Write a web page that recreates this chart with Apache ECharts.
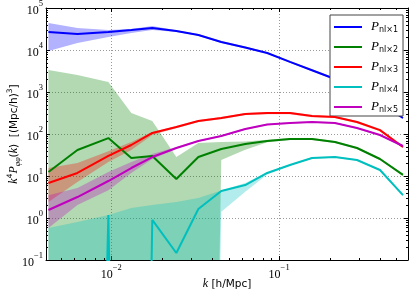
<!DOCTYPE html>
<html><head><meta charset="utf-8">
<script src="https://cdn.jsdelivr.net/npm/echarts@6/dist/echarts.min.js"></script>
<style>html,body{margin:0;padding:0;background:#fff}#c{width:413px;height:292px}</style>
</head><body><div id="c"></div>
<script>
// wavenumbers k [h/Mpc]
const k = [0.00422,0.00628,0.0096,0.01315,0.01754,0.0244,0.033,0.0452,0.0628,0.0849,0.116,0.157,0.215,0.291,0.399,0.547];
// series values (0 = non-positive, drawn clipped as in log scale)
const p1   = [26800,24000,26800,30000,33400,28300,22800,15500,11500,8500,5200,3300,2040,1120,550,240];
const p1Lo = [9500,14700,20400,25400,30000,26900,21700,14700,10900,8100,4950,3140,1940,1060,520,228];
const p1Hi = [44000,33400,30000,31600,37300,29700,23900,16300,12100,8900,5450,3470,2140,1180,580,252];
const p2   = [12.5,41.6,80,26.8,30,8.5,28.3,44,58,68,76,76,64.5,46.4,25.4,10.6];
const p2Lo = [0,0,0,0,0,0,0,24,42,64,72,72,61,44,24,10];
const p2Hi = [3340,2540,1730,316,204,28.3,61,64.5,66,73,80,80,68,49,27,11.2];
const p3   = [6.8,11.8,30,54.7,106,147,204,240,300,316,316,268,254,193,124,49];
const p3Lo = [2.4,7.2,21.5,41.7,94.6,138,192,226,282,297,297,252,239,181,116,46];
const p3Hi = [15.5,20.4,39,64.5,112,156,216,254,318,335,335,284,269,205,132,52];
const p4   = [0,0,1.18,0,0.9,0.147,1.64,4.4,6.1,11.8,18.3,26.8,28.3,24,13.9,3.5];
const p4Lo = [0,0,0,0,0,0,0,1.4,4.2,10.8,17.5,25.7,27.2,23.1,13.4,3.3];
const p4Hi = [0.58,0.80,1.18,1.73,2.04,2.4,3.0,4.5,6.8,12.3,19,27.8,29.3,24.9,14.4,3.6];
const p5   = [1.55,3.16,7.6,15.5,28.3,46.4,68,89.6,131,168,183,193,183,139,94.6,51.8];
const p5Lo = [0.58,2.04,4.6,11.8,25.4,44,65,86,125,161,175,185,175,133,90,49.5];
const p5Hi = [3.5,5.2,12.4,21.5,33.4,48.8,71,94,137,175,191,201,191,145,99,54];
const names = ['Pnl×1','Pnl×2','Pnl×3','Pnl×4','Pnl×5'];
const xMinorTicks = [0.005,0.006,0.007,0.008,0.009,0.02,0.03,0.04,0.05,0.06,0.07,0.08,0.09,0.2,0.3,0.4,0.5];
const yMinorTicks = [];
[0.1,1,10,100,1000,10000].forEach(d=>{for(let m=2;m<=9;m++) yMinorTicks.push(d*m);});

const colors = ['#0000ff','#008000','#ff0000','#00bfbf','#bf00bf'];
const bandColors = ['rgba(0,0,255,0.3)','rgba(0,128,0,0.3)','rgba(255,0,0,0.3)','rgba(0,191,191,0.3)','rgba(191,0,191,0.3)'];
const lines = [p1,p2,p3,p4,p5];
const los = [p1Lo,p2Lo,p3Lo,p4Lo,p5Lo];
const his = [p1Hi,p2Hi,p3Hi,p4Hi,p5Hi];
const pos = v => v > 0 ? v : 1e-30;

function bandSeries(i){
  return {
    type:'custom', silent:true, clip:true, z:1,
    data:[[k[0], pos(lines[i][0])]],
    renderItem:function(params, api){
      const pts=[];
      for(let j=0;j<k.length;j++) pts.push(api.coord([k[j], pos(his[i][j])]));
      for(let j=k.length-1;j>=0;j--) pts.push(api.coord([k[j], pos(los[i][j])]));
      return {type:'polygon', shape:{points:pts}, style:{fill:bandColors[i], stroke:null}};
    }
  };
}
function lineSeries(i){
  return {
    name:names[i], type:'line', symbol:'none', clip:true, z:3+i,
    data:k.map((x,j)=>[x, pos(lines[i][j])]),
    lineStyle:{color:colors[i], width:2}, itemStyle:{color:colors[i]},
    animation:false
  };
}
const minorSeries = {
  type:'custom', silent:true, clip:false, z:10,
  data:[[k[0], 1]],
  renderItem:function(params, api){
    const cs = params.coordSys; const ch=[];
    xMinorTicks.forEach(v=>{
      const x = Math.round(api.coord([v,1])[0])+0.5;
      ch.push({type:'line',shape:{x1:x,y1:cs.y+cs.height,x2:x,y2:cs.y+cs.height-2},style:{stroke:'#000',lineWidth:1}});
      ch.push({type:'line',shape:{x1:x,y1:cs.y,x2:x,y2:cs.y+2},style:{stroke:'#000',lineWidth:1}});
    });
    yMinorTicks.forEach(v=>{
      const y = Math.round(api.coord([0.01,v])[1])+0.5;
      ch.push({type:'line',shape:{x1:cs.x,y1:y,x2:cs.x+2,y2:y},style:{stroke:'#000',lineWidth:1}});
      ch.push({type:'line',shape:{x1:cs.x+cs.width,y1:y,x2:cs.x+cs.width-2,y2:y},style:{stroke:'#000',lineWidth:1}});
    });
    return {type:'group', children:ch};
  }
};

function powLabel(v){
  const e = Math.log10(v); const r = Math.round(e);
  if (Math.abs(e-r) > 1e-6) return '';
  return '{b|10}{e|' + (r<0 ? '\u2212'+(-r) : r) + '}';
}
const labelRich = {
  b:{fontFamily:'Liberation Serif', fontSize:12, color:'#000', lineHeight:18, verticalAlign:'bottom'},
  e:{fontFamily:'Liberation Serif', fontSize:8.5, color:'#000', lineHeight:8, verticalAlign:'top'}
};
const axisLineStyle = {show:true, lineStyle:{color:'#000', width:1}};
const split = {show:true, lineStyle:{color:'#9a9a9a', type:[1,2], width:1}};

const chart = echarts.init(document.getElementById('c'), null, {renderer:'canvas'});
chart.setOption({
  animation:false,
  backgroundColor:'#fff',
  grid:{left:46, right:5, top:8, bottom:32, containLabel:false, outerBoundsMode:'none'},
  legend:{
    data:names, orient:'vertical', left:330, top:15, icon:'rect',
    padding:[5,5,2,4], itemGap:6, itemWidth:28, itemHeight:2,
    borderColor:'#444', borderWidth:1, backgroundColor:'#fff', borderRadius:0,
    formatter:n=>'{p|P}{s|'+n.slice(1)+'}',
    textStyle:{rich:{
      p:{fontFamily:'Liberation Serif', fontStyle:'italic', fontSize:13, color:'#000', lineHeight:14, verticalAlign:'top', padding:[0,0,0,4]},
      s:{fontFamily:'DejaVu Sans', fontSize:8, color:'#000', lineHeight:6, verticalAlign:'bottom'}
    }}
  },
  xAxis:[{
    type:'log', logBase:10, min:0.00408, max:0.586, splitNumber:2, position:'bottom',
    axisLine:axisLineStyle, axisTick:{show:true, inside:true, length:4, lineStyle:{color:'#000'}},
    axisLabel:{formatter:powLabel, rich:labelRich, margin:3, showMinLabel:true, showMaxLabel:true},
    splitLine:split,
    name:'{i|k} {n|[h/Mpc]}', nameLocation:'middle', nameGap:18, nameMoveOverlap:false,
    nameTextStyle:{rich:{
      i:{fontFamily:'Liberation Serif', fontStyle:'italic', fontSize:12, color:'#000'},
      n:{fontFamily:'DejaVu Sans', fontSize:10.5, color:'#000'}
    }}
  },{
    type:'log', logBase:10, min:0.00408, max:0.586, splitNumber:2, position:'top',
    axisLine:axisLineStyle, axisTick:{show:true, inside:true, length:4, lineStyle:{color:'#000'}},
    axisLabel:{show:false}, splitLine:{show:false}
  }],
  yAxis:[{
    type:'log', logBase:10, min:0.1, max:100000, splitNumber:6, position:'left',
    axisLine:axisLineStyle, axisTick:{show:true, inside:true, length:4, lineStyle:{color:'#000'}},
    axisLabel:{formatter:powLabel, rich:labelRich, margin:3},
    splitLine:split,
    name:'{i|k}{sup|4}{i|P}{sub|\u03c6\u03c6}{n|(}{i|k}{n|)  [(Mpc/h)}{sup|3}{n|]}',
    nameLocation:'middle', nameRotate:90, nameGap:24, nameMoveOverlap:false,
    nameTextStyle:{rich:{
      i:{fontFamily:'Liberation Serif', fontStyle:'italic', fontSize:12, color:'#000', lineHeight:16, verticalAlign:'middle'},
      n:{fontFamily:'DejaVu Sans', fontSize:10.5, color:'#000', lineHeight:16, verticalAlign:'middle'},
      sup:{fontFamily:'DejaVu Sans', fontSize:7.5, color:'#000', lineHeight:8, verticalAlign:'top'},
      sub:{fontFamily:'Liberation Serif', fontStyle:'italic', fontSize:8, color:'#000', lineHeight:8, verticalAlign:'bottom'}
    }}
  },{
    type:'log', logBase:10, min:0.1, max:100000, splitNumber:6, position:'right',
    axisLine:axisLineStyle, axisTick:{show:true, inside:true, length:4, lineStyle:{color:'#000'}},
    axisLabel:{show:false}, splitLine:{show:false}
  }],
  series:[0,1,2,3,4].map(bandSeries).concat([0,1,2,3,4].map(lineSeries)).concat([minorSeries])
});
</script></body></html>
